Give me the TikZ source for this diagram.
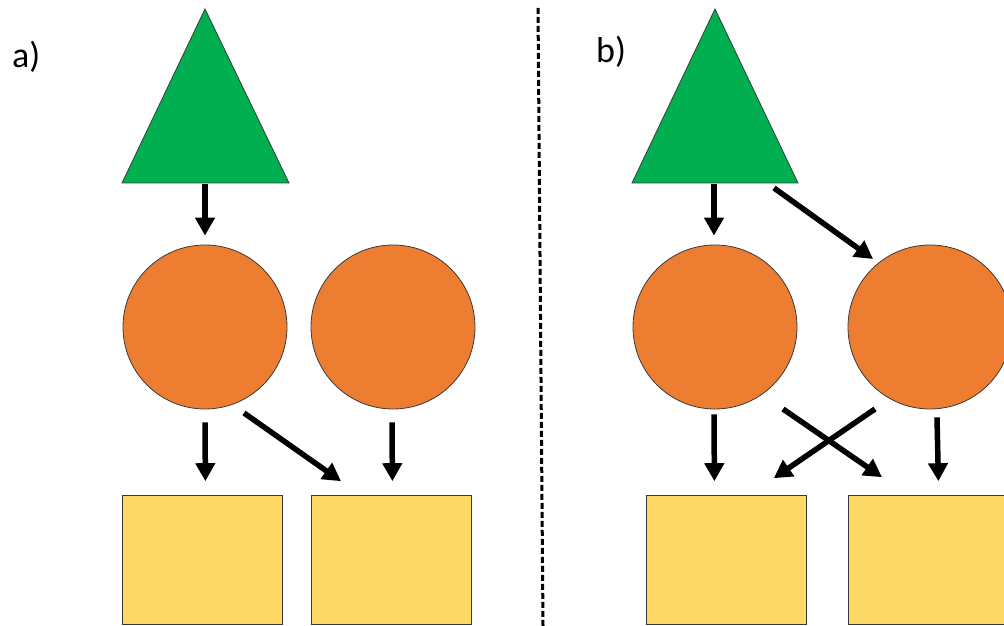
\documentclass[tikz,border=0pt]{standalone}
\usepackage{fontspec}
\setmainfont{Carlito}
\usetikzlibrary{arrows.meta,calc}
\definecolor{trigreen}{HTML}{00B050}
\definecolor{circorange}{HTML}{ED7D31}
\definecolor{boxyellow}{HTML}{FFD966}
\definecolor{edgegray}{HTML}{3A3A3A}
\tikzset{
  tri/.style={fill=trigreen,draw=edgegray,line width=0.8pt,line join=miter},
  ball/.style={circle,fill=circorange,draw=edgegray,line width=0.8pt,minimum size=164pt,inner sep=0pt},
  box/.style={rectangle,fill=boxyellow,draw=edgegray,line width=0.8pt,minimum width=160pt,minimum height=129pt,inner sep=0pt,anchor=south west},
  arr/.style={line width=5.5pt,-{Triangle[width=19pt,length=18pt]}},
  panel/.style={font=\fontsize{36}{40}\selectfont,anchor=base west,inner sep=0pt},
  divider/.style={line width=3pt,dash pattern=on 6pt off 3pt}
}
\begin{document}
\begin{tikzpicture}[x=1pt,y=1pt]
\useasboundingbox (0,0) rectangle (1004,626);

% panel labels
\node[panel] (la) at (12,558) {a)};
\node[panel] (lb) at (596,563) {b)};

% separating line
\coordinate (dtop) at (538,618);
\coordinate (dbot) at (543,0);
\draw[divider] (dtop) -- (dbot);

% ---------- a) ----------
\filldraw[tri] (122,443) -- (205,617) -- (289,443) -- cycle;
\coordinate (tA) at (205,443);
\node[ball] (cA1) at (205,299) {};
\node[ball] (cA2) at (393,299) {};
\node[box] (sA1) at (122,1) {};
\node[box] (sA2) at (311,1) {};

\draw[arr] ($(tA)+(0,-1)$) -- ($(cA1.north)+(0,9)$);
\draw[arr] ($(cA1.south)+(0,-13)$) -- ($(sA1.north)+(3,14)$);
\draw[arr] ($(cA1.center)+(39,-86)$) -- ($(sA2.north west)+(30,14)$);
\draw[arr] ($(cA2.south)+(-1,-13)$) -- ($(sA2.north)+(1,14)$);

% ---------- b) ----------
\filldraw[tri] (632,443) -- (715,617) -- (798,443) -- cycle;
\coordinate (tB) at (715,443);
\node[ball] (cB1) at (715,299) {};
\node[ball] (cB2) at (930,299) {};
\node[box] (sB1) at (646,1) {};
\node[box] (sB2) at (848,1) {};

\draw[arr] ($(tB)+(-1,-1)$) -- ($(cB1.north)+(-1,9)$);
\draw[arr] ($(tB)+(59,-5)$) -- ($(cB2.center)+(-57,68)$);
\draw[arr] ($(cB1.south)+(-1,-5)$) -- ($(sB1.north)+(-12,14)$);
\draw[arr] ($(cB1.center)+(68,-82)$) -- ($(sB2.north west)+(34,18)$);
\draw[arr] ($(cB2.center)+(-55,-82)$) -- ($(sB1.north east)+(-33,17)$);
\draw[arr] ($(cB2.south)+(7,-8)$) -- ($(sB2.north)+(10,14)$);
\end{tikzpicture}
\end{document}
